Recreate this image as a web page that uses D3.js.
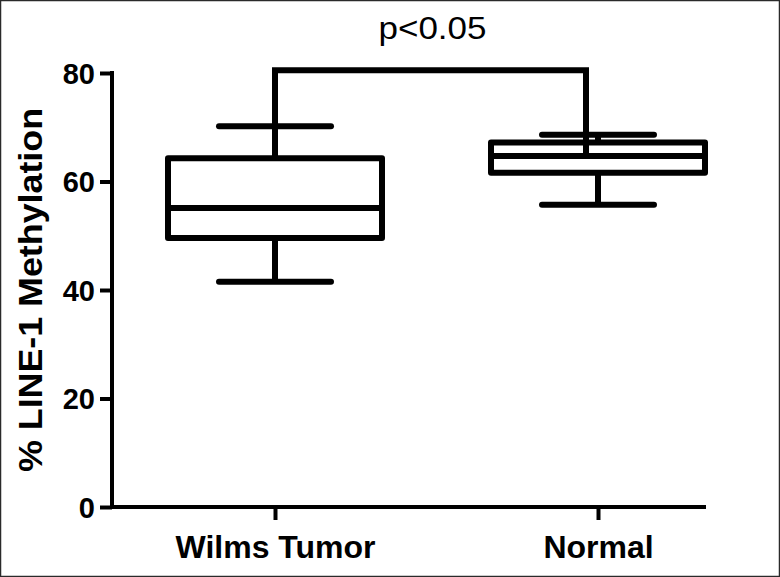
<!DOCTYPE html>
<html>
<head>
<meta charset="utf-8">
<script src="https://cdn.jsdelivr.net/npm/d3@7"></script>
<style>
  html, body { margin: 0; padding: 0; background: #fff; }
  svg { display: block; }
  text { font-family: "Liberation Sans", Arial, Helvetica, sans-serif; fill: #000; }
</style>
</head>
<body>
<svg id="chart" width="780" height="577"></svg>
<script>
// ---- data ----
const categories = ["Wilms Tumor", "Normal"];
const whiskerLow  = [41.5, 55.7];
const q1          = [49.6, 61.6];
const median      = [55.1, 64.7];
const q3          = [64.3, 67.2];
const whiskerHigh = [70.2, 68.6];
const yTicks = [0, 20, 40, 60, 80];
const yLabel = "% LINE-1 Methylation";
const sigLabel = "p<0.05";
const sigLevel = 80.5;          // bracket height
const sigRightEnd = 65.2;       // bracket right leg end

// ---- layout ----
const svg = d3.select("#chart");
const W = 780, H = 577;
const x = d3.scalePoint().domain(categories).range([275, 598]);
const y = d3.scaleLinear().domain([0, 80]).range([507, 73]);
const axisLeftX = 112, axisRightX = 706;
const boxW = 214, capW = 112;
const lw = 6;

// border
svg.append("rect").attr("x", 0.5).attr("y", 0.5).attr("width", W - 1).attr("height", H - 1)
  .attr("fill", "none").attr("stroke", "#2a2a2a").attr("stroke-width", 1.5);

// y axis
const yAxis = d3.axisLeft(y).tickValues(yTicks).tickSize(12).tickPadding(5).tickFormat(d3.format("d"));
const gy = svg.append("g").attr("transform", `translate(${axisLeftX},0)`).call(yAxis);
gy.select(".domain").remove();
gy.append("line").attr("x1", 0).attr("x2", 0).attr("y1", y(80)).attr("y2", y(0))
  .attr("stroke", "#000").attr("stroke-width", 4).attr("stroke-linecap", "square");
gy.selectAll(".tick line").attr("stroke", "#000").attr("stroke-width", 4);
gy.selectAll(".tick text").attr("font-size", 29).attr("font-weight", "bold").attr("fill", "#000")
  .attr("dy", "0.36em").attr("x", -17);

// x axis
const xAxis = d3.axisBottom(x).tickSize(13).tickPadding(14);
const gx = svg.append("g").attr("transform", `translate(0,${y(0)})`).call(xAxis);
gx.select(".domain").remove();
gx.append("line").attr("x1", axisLeftX).attr("x2", axisRightX).attr("y1", 0).attr("y2", 0)
  .attr("stroke", "#000").attr("stroke-width", 4);
gx.selectAll(".tick line").attr("stroke", "#000").attr("stroke-width", 4);
gx.selectAll(".tick text").attr("font-size", 32).attr("font-weight", "bold").attr("fill", "#000")
  .attr("dy", "0.71em").attr("y", 28);

// y label
svg.append("text")
  .attr("transform", `translate(42,290) rotate(-90)`)
  .attr("text-anchor", "middle")
  .attr("font-size", 33).attr("font-weight", "bold")
  .attr("textLength", 364).attr("lengthAdjust", "spacingAndGlyphs")
  .text(yLabel);

// boxes
const data = categories.map((c, i) => ({
  c, lo: whiskerLow[i], q1: q1[i], med: median[i], q3: q3[i], hi: whiskerHigh[i]
}));
const g = svg.append("g").attr("stroke", "#000").attr("stroke-width", lw).attr("fill", "none");
data.forEach(d => {
  const cx = x(d.c);
  // whiskers
  g.append("line").attr("x1", cx).attr("x2", cx).attr("y1", y(d.hi)).attr("y2", y(d.q3));
  g.append("line").attr("x1", cx).attr("x2", cx).attr("y1", y(d.q1)).attr("y2", y(d.lo));
  g.append("line").attr("x1", cx - capW / 2).attr("x2", cx + capW / 2).attr("y1", y(d.hi)).attr("y2", y(d.hi))
    .attr("stroke-linecap", "round");
  g.append("line").attr("x1", cx - capW / 2).attr("x2", cx + capW / 2).attr("y1", y(d.lo)).attr("y2", y(d.lo))
    .attr("stroke-linecap", "round");
  // box
  g.append("rect").attr("x", cx - boxW / 2).attr("width", boxW)
    .attr("y", y(d.q3)).attr("height", y(d.q1) - y(d.q3))
    .attr("stroke-linejoin", "round");
  // median
  g.append("line").attr("x1", cx - boxW / 2).attr("x2", cx + boxW / 2).attr("y1", y(d.med)).attr("y2", y(d.med));
});

// significance bracket
const bx1 = x(categories[0]);
const bx2 = x(categories[1]) - 12;
g.append("path")
  .attr("d", `M${bx1},${y(whiskerHigh[0])} L${bx1},${y(sigLevel)} L${bx2},${y(sigLevel)} L${bx2},${y(sigRightEnd)}`)
  .attr("stroke-linejoin", "miter");

svg.append("text")
  .attr("x", (bx1 + bx2) / 2 + 2).attr("y", 39)
  .attr("text-anchor", "middle")
  .attr("font-size", 31)
  .attr("textLength", 108).attr("lengthAdjust", "spacingAndGlyphs")
  .text(sigLabel);
</script>
</body>
</html>
